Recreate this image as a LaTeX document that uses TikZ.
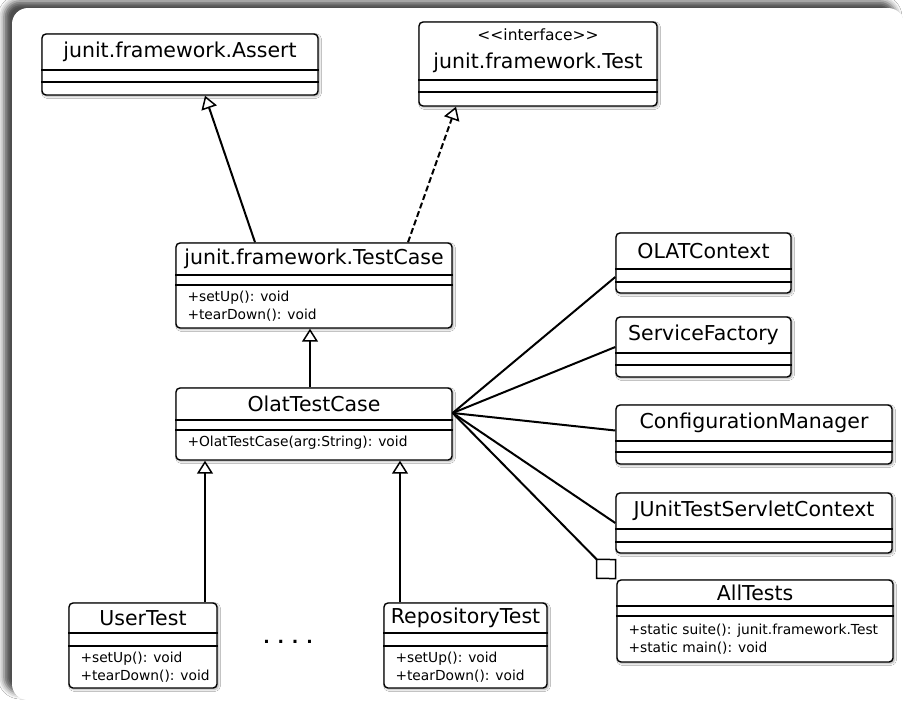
\documentclass[tikz,border=0pt]{standalone}
\usepackage{fontspec}
\setmainfont{DejaVu Sans}
\usepackage{tikz}
\usetikzlibrary{positioning,arrows.meta,calc,fit,shadows.blur}

% class box: name, left, top, right, bottom, first rule, second rule, title
\newcommand{\umlclass}[8]{%
  \node[classbox, fit={(#2,#3) (#4,#5)}] (#1) {};
  \draw[classrule] (#1.west |- 0,#6) -- (#1.east |- 0,#6);
  \draw[classrule] (#1.west |- 0,#7) -- (#1.east |- 0,#7);
  \node[classname] (#1-name) at (#1.north |- 0,{(#3+#6)/2}) {#8};
}

\begin{document}
\begin{tikzpicture}[x=1pt,y=-1pt]
\tikzset{classbox/.style={draw, line width=1.4pt, rounded corners=4pt, fill=white, inner sep=0pt,
    blur shadow={shadow xshift=1.5pt, shadow yshift=-1.5pt, shadow blur radius=2pt, shadow opacity=35}},
  classrule/.style={line width=1.4pt},
  classname/.style={font=\fontsize{20.5}{24}\selectfont, inner sep=0pt, align=center},
  classops/.style={font=\fontsize{13.8}{18}\selectfont, inner sep=0pt, align=left, anchor=west, xshift=12pt},
  inherit/.style={line width=2pt, -{Triangle[open, length=13pt, width=16pt, line width=1.5pt]}},
  realize/.style={inherit, dash pattern=on 6pt off 3pt},
  assoc/.style={line width=2pt},
  aggr/.style={line width=2pt, {Diamond[open, length=29pt, width=29pt, line width=1.5pt]}-}}
\useasboundingbox (0,0) rectangle (904,704);
\fill[white] (0,0) rectangle (904,704);
% frame
\path[fill=white, rounded corners=16pt,
  blur shadow={shadow xshift=-8pt, shadow yshift=7pt, shadow blur radius=6pt, shadow opacity=70}]
  (12,8) rectangle (904,700);

% classes
\umlclass{assert}{42}{34}{318}{95}{70}{82}{junit.framework.Assert}
\umlclass{test}{419}{22}{657}{106}{80}{92}{{\fontsize{15.5}{16}\selectfont <\kern0pt<interface>\kern0pt>}\\[4pt]junit.framework.Test}
\umlclass{testcase}{176}{243}{452}{328}{275}{285}{junit.framework.TestCase}
\node[classops] (testcase-ops) at (testcase.west |- 0,306.5) {+setUp(): void\\+tearDown(): void};
\umlclass{olat}{176}{388}{452}{460}{420}{430}{OlatTestCase}
\node[classops] (olat-ops) at (olat.west |- 0,443) {+OlatTestCase(arg:String): void};
\umlclass{ctx}{616}{233}{791}{293}{269}{282}{OLATContext}
\umlclass{factory}{616}{317}{791}{377}{353}{365}{ServiceFactory}
\umlclass{config}{616}{405}{892}{464}{441}{452}{ConfigurationManager}
\umlclass{servlet}{616}{493}{892}{553}{529}{542}{JUnitTestServletContext}
\umlclass{alltests}{617}{580}{893}{662}{606}{616}{AllTests}
\node[classops] (alltests-ops) at (alltests.west |- 0,639) {+static suite(): junit.framework.Test\\+static main(): void};
\umlclass{user}{69}{603}{217}{688}{633}{646}{UserTest}
\node[classops] (user-ops) at (user.west |- 0,667) {+setUp(): void\\+tearDown(): void};
\umlclass{repo}{384}{603}{547}{688}{633}{646}{RepositoryTest}
\node[classops] (repo-ops) at (repo.west |- 0,667) {+setUp(): void\\+tearDown(): void};
\node[classname, font=\fontsize{17}{20}\bfseries] (more) at (288,642) {. . . .};

% generalisation
\draw[inherit] ([xshift=-59pt]testcase.north) -- ([xshift=25pt]assert.south);
\draw[realize] ([xshift=94pt]testcase.north) -- ([xshift=-82pt]test.south);
\draw[inherit] ([xshift=-4pt]olat.north) -- ([xshift=-4pt]olat.north |- testcase.south);
\draw[inherit] ([xshift=62pt]user.north) -- ([xshift=62pt]user.north |- olat.south);
\draw[inherit] ([xshift=-65.5pt]repo.north) -- ([xshift=-65.5pt]repo.north |- olat.south);

% associations
\coordinate (hub) at ([yshift=11pt]olat.east);
\draw[assoc] (hub) -- ([yshift=-14pt]ctx.west);
\draw[assoc] (hub) -- (factory.west);
\draw[assoc] (hub) -- ([yshift=4pt]config.west);
\draw[assoc] (hub) -- (servlet.west);
\draw[aggr] (alltests.north west) -- (hub);
\end{tikzpicture}
\end{document}
